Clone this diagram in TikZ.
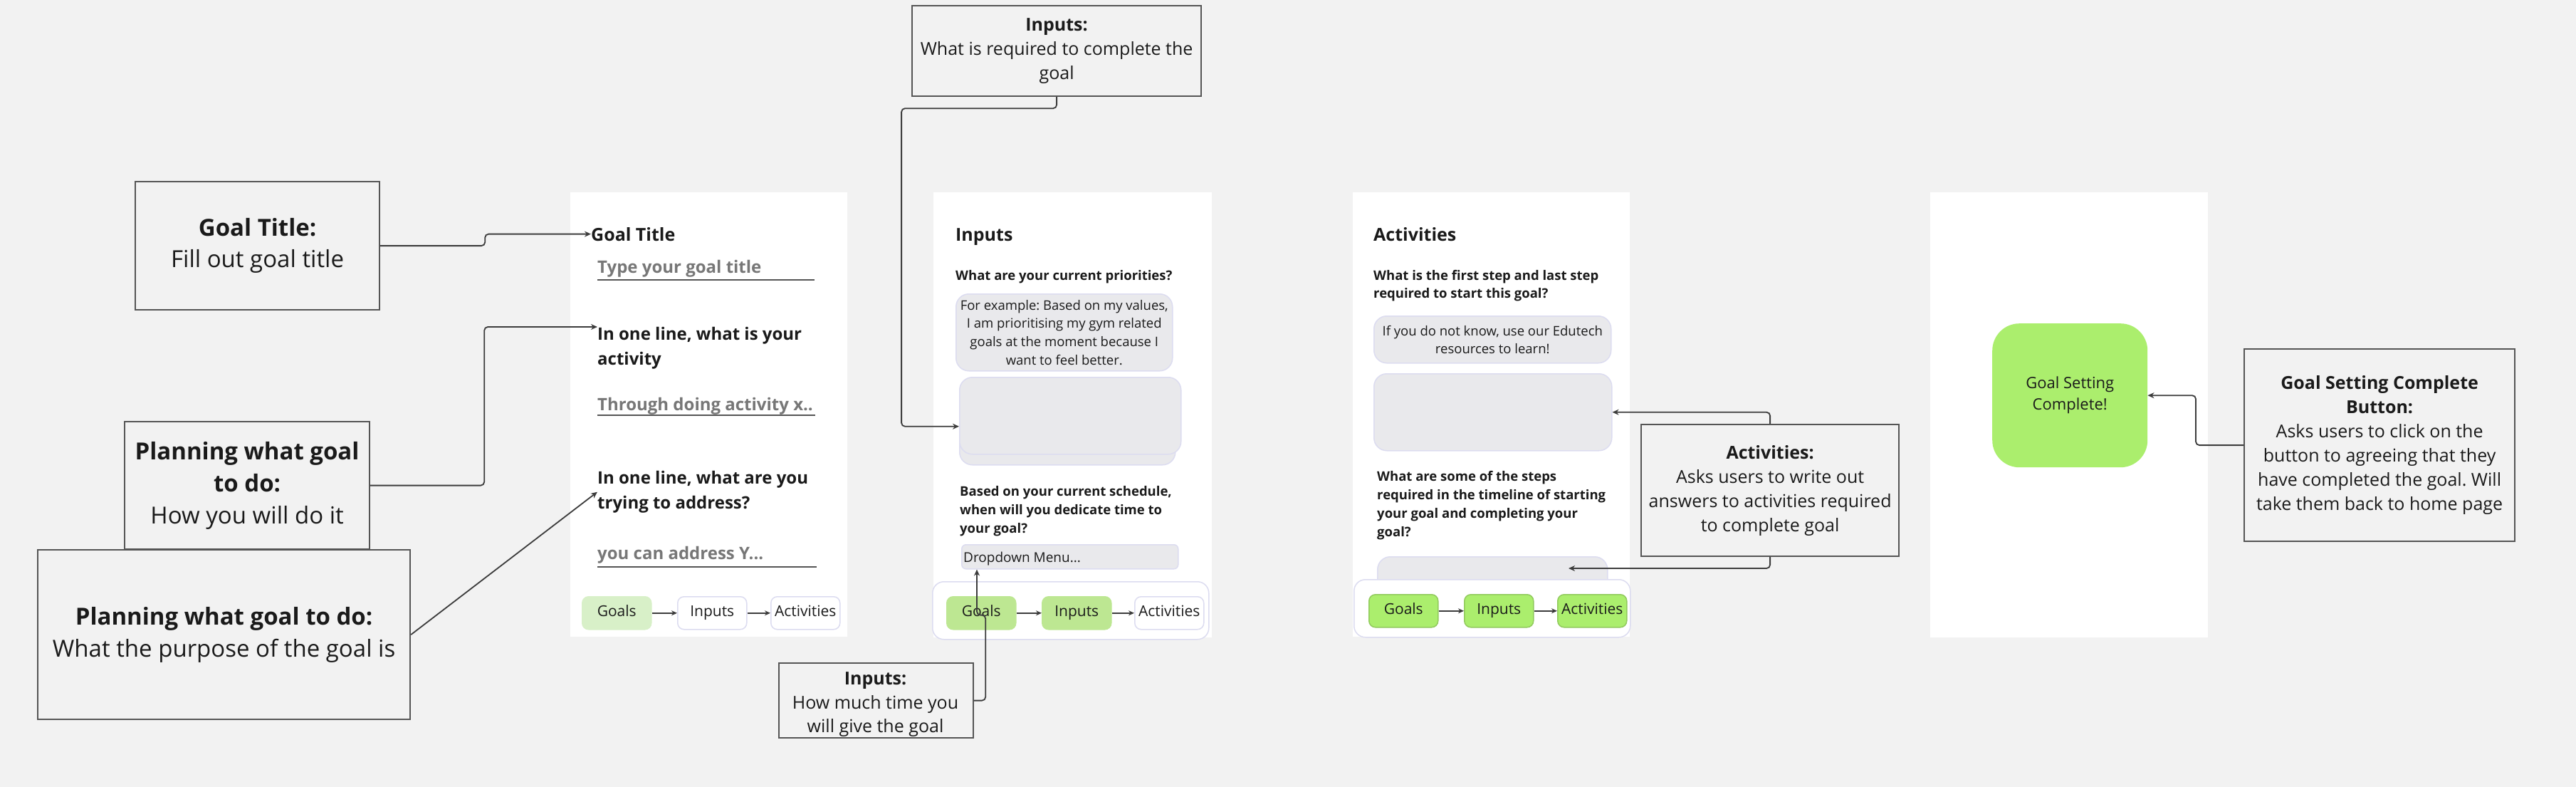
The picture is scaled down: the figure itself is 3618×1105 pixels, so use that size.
\documentclass[tikz,border=0pt]{standalone}
\usepackage{fontspec}
\setmainfont{Open Sans}
\frenchspacing
\usetikzlibrary{arrows.meta}
\definecolor{bg}{HTML}{F2F2F2}
\definecolor{txt}{HTML}{1A1A1A}
\definecolor{ph}{HTML}{777777}
\definecolor{annb}{HTML}{555555}
\definecolor{connc}{HTML}{3C3C3C}
\definecolor{fieldf}{HTML}{E9E9EC}
\definecolor{fieldb}{HTML}{DCDCF0}
\definecolor{gpale}{HTML}{D8F0C8}
\definecolor{gmid}{HTML}{BDE792}
\definecolor{gbright}{HTML}{ABEE6D}
\newcommand\myfs[2]{\fontsize{#1pt}{#2pt}\selectfont}
\tikzset{
  ann/.style={draw=annb, line width=2.2pt, fill=bg, align=center, text=txt, inner sep=0pt, anchor=north west},
  screen/.style={fill=white, draw=none, inner sep=0pt, anchor=north west},
  field/.style={fill=fieldf, draw=fieldb, line width=1.5pt, rounded corners=18pt, inner sep=0pt, anchor=north west, text=txt},
  navbox/.style={fill=white, draw=fieldb, line width=1.5pt, rounded corners=16pt, anchor=north west, inner sep=0pt},
  btn/.style={draw=fieldb, line width=1.5pt, rounded corners=9pt, minimum width=97pt, minimum height=46pt, inner sep=0pt, anchor=north west, font=\myfs{21}{26}, text=txt, text height=15pt, text depth=5pt},
  qtext/.style={anchor=north west, inner sep=0pt, align=left, font=\bfseries\myfs{18.5}{26}, text=txt},
  lbl/.style={anchor=base west, inner sep=0pt, text=txt},
  ttl/.style={lbl, font=\bfseries\myfs{25}{30}},
  phtext/.style={lbl, font=\bfseries\myfs{24}{30}, text=ph},
  uline/.style={draw=annb, line width=1.8pt},
  conn/.style={draw=connc, line width=1.8pt, rounded corners=5pt, -{Stealth[length=9pt,width=8pt]}},
  navarr/.style={draw=connc, line width=1.5pt, -{Stealth[length=8pt,width=7pt]}}
}
\begin{document}
\begin{tikzpicture}[x=1pt,y=-1pt]
\useasboundingbox (0,0) rectangle (3618,1105);
\fill[bg] (0,0) rectangle (3618,1105);

% ---------- screen 1: goal ----------
\node[screen, minimum width=389, minimum height=624] (s1) at (801,270) {};
\node[ttl] (t1) at (830,338) {Goal Title};
\node[phtext] (p1) at (839,383) {Type your goal title};
\draw[uline] (839,393) -- (1144,393);
\node[qtext, font=\bfseries\myfs{24}{35}] (q1) at (839,459) {In one line, what is your\\activity};
\node[phtext] (p2) at (839,576) {Through doing activity x..};
\draw[uline] (839,583) -- (1145,583);
\node[qtext, font=\bfseries\myfs{24}{35}] (q2) at (839,661) {In one line, what are you\\trying to address?};
\node[phtext] (p3) at (839,785) {you can address Y...};
\draw[uline] (839,796) -- (1147,796);
\node[btn, fill=gpale, draw=gpale] (b11) at (817,837) {Goals};
\node[btn, fill=white] (b12) at (951,837) {Inputs};
\node[btn, fill=white] (b13) at (1082,837) {Activities};
\draw[navarr] (b11) -- (b12);
\draw[navarr] (b12) -- (b13);

% ---------- screen 2: inputs ----------
\node[screen, minimum width=391, minimum height=625] (s2) at (1311,270) {};
\node[ttl] (t2) at (1342,338) {Inputs};
\node[lbl, font=\bfseries\myfs{18.5}{26}] (q21) at (1342,393) {What are your current priorities?};
\node[field, minimum width=304, minimum height=108, align=center, font=\myfs{18.5}{25.7}] (ex) at (1342,412) {For example: Based on my values,\\I am prioritising my gym related\\goals at the moment because I\\want to feel better.};
\node[field, minimum width=303, minimum height=108] (ib2) at (1347,544) {};
\node[field, minimum width=311, minimum height=108] (ib1) at (1347,529) {};
\node[qtext] (q22) at (1348,682.5) {Based on your current schedule,\\when will you dedicate time to\\your goal?};
\node[field, rounded corners=6pt, minimum width=304, minimum height=34] (dd) at (1350,764) {};
\node[lbl, font=\myfs{19}{24}] (ddt) at (1353,789) {Dropdown Menu...};
\node[navbox, minimum width=388, minimum height=81] (nav2) at (1309,816) {};
\node[btn, fill=gmid, draw=gmid] (b21) at (1329,837) {Goals};
\node[btn, fill=gmid, draw=gmid] (b22) at (1463,837) {Inputs};
\node[btn, fill=white] (b23) at (1593,837) {Activities};
\draw[navarr] (b21) -- (b22);
\draw[navarr] (b22) -- (b23);

% ---------- screen 3: activities ----------
\node[screen, minimum width=389, minimum height=624] (s3) at (1900,270) {};
\node[ttl] (t3) at (1929,338) {Activities};
\node[qtext, font=\bfseries\myfs{18.5}{25}] (q31) at (1929,379) {What is the first step and last step\\required to start this goal?};
\node[field, minimum width=333, minimum height=66, align=center, font=\myfs{18.5}{25}] (hint) at (1929,443) {If you do not know, use our Edutech\\resources to learn!};
\node[field, minimum width=334, minimum height=108] (ab1) at (1929,524) {};
\node[qtext] (q32) at (1934,661) {What are some of the steps\\required in the timeline of starting\\your goal and completing your\\goal?};
\node[field, minimum width=323, minimum height=80] (ab2) at (1934,781) {};
\node[navbox, minimum width=388, minimum height=81] (nav3) at (1901,813) {};
\node[btn, fill=gbright, draw=gbright!85!black] (b31) at (1922,834) {Goals};
\node[btn, fill=gbright, draw=gbright!85!black] (b32) at (2056,834) {Inputs};
\node[btn, fill=gbright, draw=gbright!85!black] (b33) at (2187,834) {Activities};
\draw[navarr] (b31) -- (b32);
\draw[navarr] (b32) -- (b33);

% ---------- screen 4: complete ----------
\node[screen, minimum width=390, minimum height=625] (s4) at (2711,270) {};
\node[fill=gbright, rounded corners=38pt, minimum width=218, minimum height=202, anchor=north west, align=center, font=\myfs{22}{30}, text=txt, inner sep=0pt] (gsb) at (2798,454) {Goal Setting\\Complete!};

% ---------- annotations ----------
\node[ann, minimum width=343, minimum height=180, font=\myfs{33}{44}] (gt) at (189,254) {\textbf{Goal Title:}\\Fill out goal title};
\node[ann, minimum width=344, minimum height=179, font=\myfs{33}{45}] (pl1) at (174,591) {\textbf{Planning what goal}\\\textbf{to do:}\\How you will do it};
\node[ann, minimum width=523, minimum height=238, font=\myfs{33}{45}] (pl2) at (52,771) {\textbf{Planning what goal to do:}\\What the purpose of the goal is};
\node[ann, minimum width=406, minimum height=127, font=\myfs{25}{34}] (ti) at (1280,7) {\textbf{Inputs:}\\What is required to complete the\\goal};
\node[ann, minimum width=273, minimum height=105] (bi) at (1093,930) {};
\begin{scope}
\clip (1094,931) rectangle (1365,1034);
\node[align=center, font=\myfs{25}{33.5}, text=txt, inner sep=0pt] (bit) at (1229.5,989.5) {\textbf{Inputs:}\\How much time you\\will give the goal};
\end{scope}
\node[ann, minimum width=362, minimum height=185, font=\myfs{25}{34}] (aa) at (2304,595) {\textbf{Activities:}\\Asks users to write out\\answers to activities required\\to complete goal};
\node[ann, minimum width=380, minimum height=270, font=\myfs{25}{34}] (gsa) at (3151,489) {\textbf{Goal Setting Complete}\\\textbf{Button:}\\Asks users to click on the\\button to agreeing that they\\have completed the goal. Will\\take them back to home page};

% ---------- connectors ----------
\draw[conn] (gt.east) -- ++(147,0) |- (t1.west);
\draw[conn] (pl1.east) -- ++(160,0) |- (q1.north west);
\draw[conn] (pl2.east) -- (q2.west);
\draw[conn] (ti.south) -- ++(0,16) -- ++(-218,0) |- (ib2.west);
\draw[conn] (bi.east) -- ++(16,0) -- ++(0,-120) -| ([xshift=22pt]dd.south west);
\draw[conn] (aa.north) |- (ab1.east);
\coordinate (ab2t) at (2203,798);
\draw[conn] (aa.south) |- (ab2t);
\draw[conn] (gsa.west) -- ++(-67,0) |- (gsb.east);
\end{tikzpicture}
\end{document}
